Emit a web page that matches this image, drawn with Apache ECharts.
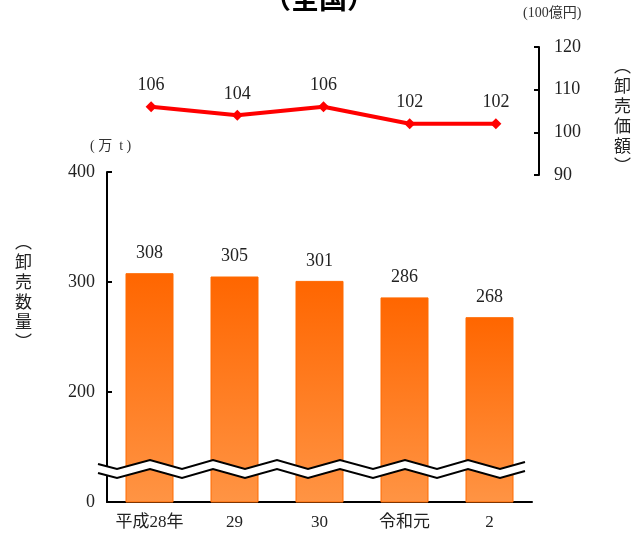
<!DOCTYPE html>
<html><head><meta charset="utf-8">
<script src="https://cdn.jsdelivr.net/npm/echarts@6/dist/echarts.min.js"></script>
<style>html,body{margin:0;padding:0;background:#fff}#c{width:638px;height:536px}</style>
</head><body><div id="c"></div>
<script>
var categories = ['平成28年', '29', '30', '令和元', '2'];
var volume = [308, 305, 301, 286, 268];      // 卸売数量 (万t)
var value = [106, 104, 106, 102, 102];        // 卸売価額 (100億円)
var volTicks = [100, 400, 100];               // min, max, interval (100 shown as 0 due to break)
var valTicks = [90, 120, 10];

var F = '"Liberation Serif","Noto Sans CJK JP",serif';
var chart = echarts.init(document.getElementById('c'));

// zigzag break decoration (double line, white gap)
var zx = [98, 117, 150, 182, 213, 245, 277, 308, 340, 373, 405, 437, 468, 500, 525];
var upper = zx.map(function (x, i) {
  if (i === 0) return [x, 464];
  if (i === zx.length - 1) return [x, 462];
  return [x, (i % 2 === 1) ? 469 : 460];
});
var lower = upper.map(function (p) { return [p[0], p[1] + 9]; });
var poly = upper.concat(lower.slice().reverse());

chart.setOption({
  animation: false,
  grid: [
    {left: 107, right: 106, top: 172, bottom: 34},
    {left: 108, right: 99, top: 47, bottom: 361}
  ],
  xAxis: [
    {gridIndex: 0, type: 'category', data: categories,
     axisLine: {lineStyle: {color: '#000', width: 2}}, axisTick: {show: false},
     axisLabel: {interval: 0, hideOverlap: false, fontFamily: F, fontSize: 17, color: '#222', margin: 12}},
    {gridIndex: 1, type: 'category', data: categories, show: false}
  ],
  yAxis: [
    {gridIndex: 0, type: 'value', min: volTicks[0], max: volTicks[1], interval: volTicks[2],
     splitLine: {show: false},
     axisLine: {show: true, lineStyle: {color: '#000', width: 2}},
     axisTick: {show: true, inside: true, length: 5, lineStyle: {color: '#000', width: 2}},
     axisLabel: {fontFamily: F, fontSize: 18, color: '#222', margin: 12,
       formatter: function (v) { return v === 100 ? '0' : String(v); }}},
    {gridIndex: 1, type: 'value', position: 'right', min: valTicks[0], max: valTicks[1], interval: valTicks[2],
     splitLine: {show: false},
     axisLine: {show: true, lineStyle: {color: '#000', width: 2}},
     axisTick: {show: true, inside: true, length: 5, lineStyle: {color: '#000', width: 2}},
     axisLabel: {fontFamily: F, fontSize: 18, color: '#222', margin: 15}}
  ],
  series: [
    {type: 'bar', xAxisIndex: 0, yAxisIndex: 0, data: volume, barWidth: 48,
     itemStyle: {borderColor: '#FF6A00', borderWidth: 1,
       color: new echarts.graphic.LinearGradient(0, 0, 0, 1, [
         {offset: 0, color: '#FF6600'}, {offset: 1, color: '#FF9444'}], false)},
     label: {show: true, position: 'top', distance: 11, fontFamily: F, fontSize: 18, color: '#222'}},
    {type: 'line', xAxisIndex: 1, yAxisIndex: 1, data: value,
     symbol: 'diamond', symbolSize: 11,
     lineStyle: {color: '#FF0000', width: 4}, itemStyle: {color: '#FF0000'},
     label: {show: true, position: 'top', distance: 7, fontFamily: F, fontSize: 18, color: '#222'}}
  ],
  graphic: [
    {type: 'polygon', shape: {points: poly}, style: {fill: '#fff', stroke: null}, z: 100},
    {type: 'polyline', shape: {points: upper}, style: {stroke: '#000', lineWidth: 2, fill: null}, z: 101},
    {type: 'polyline', shape: {points: lower}, style: {stroke: '#000', lineWidth: 2, fill: null}, z: 101},
    {type: 'text', left: 'center', top: -16, style: {text: '（全国）', fontFamily: '"Noto Sans CJK JP"', fontWeight: 'bold', fontSize: 28, fill: '#000'}, z: 10},
    {type: 'text', x: 523, y: 6, style: {text: '(100億円)', fontFamily: F, fontSize: 14, fill: '#333'}},
    {type: 'text', x: 90, y: 139, style: {text: '( 万  t )', fontFamily: F, fontSize: 14, fill: '#333'}},
    {type: 'text', x: 15, y: 232, style: {text: '︵\n卸\n売\n数\n量\n︶', fontFamily: '"Noto Sans CJK JP"', fontSize: 17, lineHeight: 20, fill: '#222', align: 'left'}},
    {type: 'text', x: 614, y: 56, style: {text: '︵\n卸\n売\n価\n額\n︶', fontFamily: '"Noto Sans CJK JP"', fontSize: 17, lineHeight: 20, fill: '#222', align: 'left'}}
  ]
});
</script></body></html>
